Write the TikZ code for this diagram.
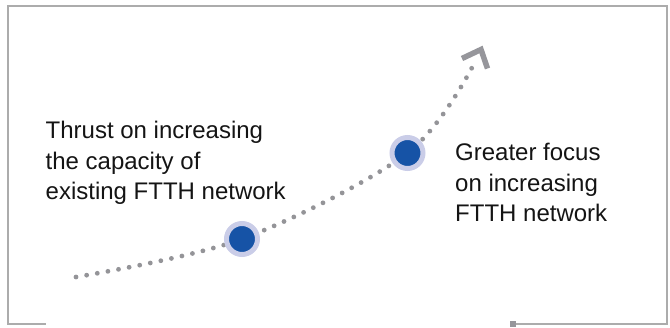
\documentclass[tikz,border=0pt]{standalone}
\usepackage{fontspec}
\setmainfont{Liberation Sans}
\definecolor{framegray}{RGB}{172,172,172}
\definecolor{markgray}{RGB}{150,150,155}
\definecolor{dotgray}{RGB}{148,148,152}
\definecolor{ringblue}{RGB}{202,205,232}
\definecolor{coreblue}{RGB}{22,83,166}
\definecolor{txt}{RGB}{20,20,20}
\begin{document}
\begin{tikzpicture}[x=1pt,y=-1pt,
  frameline/.style={draw=framegray,line width=2pt},
  dotline/.style={draw=dotgray,line width=4.8pt,line cap=round,dash pattern=on 0pt off 10.8pt},
  chevron/.style={draw=markgray,line width=5.5pt,line join=miter},
  milestone/.style={circle,fill=coreblue,draw=ringblue,line width=5pt,minimum size=31pt,inner sep=0pt},
  label/.style={anchor=north west,inner sep=0pt,align=left,text=txt,
    font=\fontsize{24}{30.5}\selectfont}]
\useasboundingbox (0,0) rectangle (670,328);
% frame
\coordinate (fa) at (45.5,324);
\coordinate (fb) at (7.5,324);
\coordinate (fc) at (7.5,6.5);
\coordinate (fd) at (666.5,6.5);
\coordinate (fe) at (666.5,324);
\coordinate (ff) at (513,324);
\draw[frameline,line join=miter] (fa) -- (fb) -- (fc) -- (fd) -- (fe) -- (ff);
\node[fill=markgray,minimum size=6pt,inner sep=0pt] (sq) at (ff) {};
% curve
\coordinate (start) at (76,277);
\coordinate (p1) at (242,239);
\coordinate (p2) at (407.5,153);
\coordinate (stop) at (475.5,61);
\draw[dotline] plot[smooth,tension=0.55] coordinates {(start) (p1) (p2) (stop)};
\node[milestone] (m1) at (p1) {};
\node[milestone] (m2) at (p2) {};
% arrow head
\coordinate (apex) at (481,49.5);
\coordinate (armL) at (462,58.5);
\coordinate (armR) at (487.5,68.5);
\draw[chevron] (armL) -- (apex) -- (armR);
% texts
\node[label] (t1) at (45.5,121) {Thrust on increasing\\the capacity of\\existing FTTH network};
\node[label] (t2) at (455,143) {Greater focus\\on increasing\\FTTH network};
\end{tikzpicture}
\end{document}
